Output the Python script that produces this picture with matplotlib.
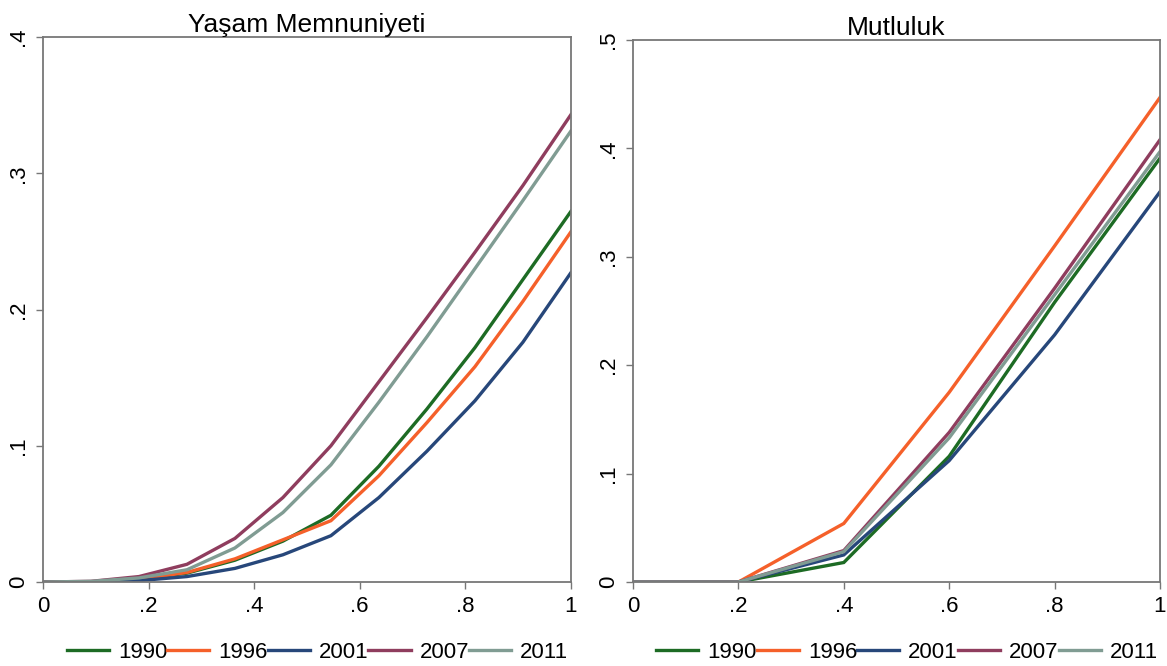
import numpy as np
import matplotlib
matplotlib.use("Agg")
import matplotlib.pyplot as plt

plt.rcParams['font.family'] = ['Liberation Sans', 'DejaVu Sans']

# ------------------------------------------------------------
# data
# ------------------------------------------------------------
years = ['1990', '1996', '2001', '2007', '2011']
colors = ['#1d6b24', '#f5602a', '#27477a', '#8f3d5e', '#809c93']

# Yaşam Memnuniyeti: 12 points, steps of 1/11
x_ls = np.arange(12) / 11
ls_1990 = [0, 0, 0.002, 0.0065, 0.016, 0.030, 0.049, 0.085, 0.127, 0.172, 0.222, 0.272]
ls_1996 = [0, 0, 0.002, 0.007, 0.017, 0.031, 0.045, 0.078, 0.117, 0.158, 0.206, 0.257]
ls_2001 = [0, 0, 0.001, 0.004, 0.010, 0.020, 0.034, 0.062, 0.096, 0.133, 0.176, 0.227]
ls_2007 = [0, 0.0005, 0.004, 0.013, 0.032, 0.062, 0.100, 0.147, 0.194, 0.242, 0.291, 0.343]
ls_2011 = [0, 0.0005, 0.003, 0.009, 0.025, 0.051, 0.086, 0.132, 0.180, 0.230, 0.280, 0.331]

# Mutluluk: 6 points
x_mu = [0, 0.2, 0.4, 0.6, 0.8, 1.0]
mu_1990 = [0, 0, 0.018, 0.116, 0.258, 0.391]
mu_1996 = [0, 0, 0.054, 0.175, 0.310, 0.447]
mu_2001 = [0, 0, 0.025, 0.112, 0.228, 0.360]
mu_2007 = [0, 0, 0.029, 0.138, 0.271, 0.408]
mu_2011 = [0, 0, 0.028, 0.133, 0.265, 0.397]

ls_all = [ls_1990, ls_1996, ls_2001, ls_2007, ls_2011]
mu_all = [mu_1990, mu_1996, mu_2001, mu_2007, mu_2011]

xticks = [0, 0.2, 0.4, 0.6, 0.8, 1.0]
xticklabels = ['0', '.2', '.4', '.6', '.8', '1']

fig = plt.figure(figsize=(11.67, 6.66), dpi=100)
ax1 = fig.add_axes([0.0368, 0.1261, 0.4524, 0.8183])
ax2 = fig.add_axes([0.5424, 0.1261, 0.4516, 0.8138])


def style(ax, title, ymax, yticks, yticklabels, x, series):
    for vals, yr, c in zip(series, years, colors):
        ax.plot(x, vals, color=c, lw=2.4, label=yr, solid_joinstyle='miter')
    ax.set_xlim(0, 1)
    ax.set_ylim(0, ymax)
    ax.set_xticks(xticks)
    ax.set_xticklabels(xticklabels)
    ax.set_yticks(yticks)
    ax.set_yticklabels(yticklabels, rotation=90, va='center')
    ax.tick_params(direction='out', length=5, width=1, color='#777777',
                   labelsize=16, pad=5)
    for s in ax.spines.values():
        s.set_color('#777777')
        s.set_linewidth(1.3)
    ax.set_title(title, fontsize=19, pad=3)
    ax.legend(loc='upper center', bbox_to_anchor=(0.52, -0.09), ncol=5,
              frameon=False, fontsize=16, handlelength=1.9,
              handletextpad=0.4, columnspacing=0.0, borderpad=0.0)


style(ax1, 'Yaşam Memnuniyeti', 0.4, [0, 0.1, 0.2, 0.3, 0.4],
      ['0', '.1', '.2', '.3', '.4'], x_ls, ls_all)
style(ax2, 'Mutluluk', 0.5, [0, 0.1, 0.2, 0.3, 0.4, 0.5],
      ['0', '.1', '.2', '.3', '.4', '.5'], x_mu, mu_all)

fig.savefig('out.png', dpi=100)
